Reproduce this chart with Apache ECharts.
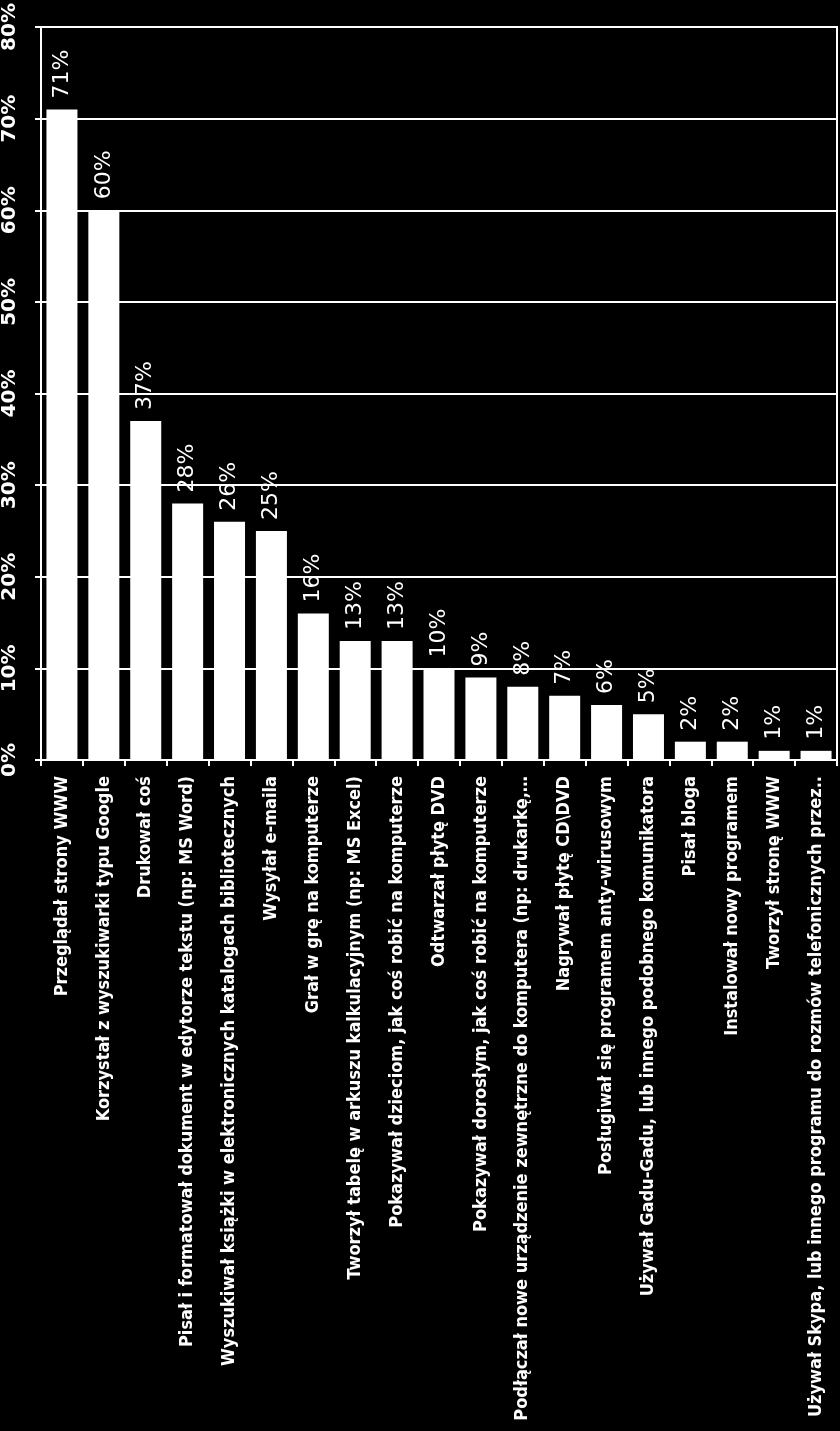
<!DOCTYPE html>
<html>
<head>
<meta charset="utf-8">
<script src="https://cdn.jsdelivr.net/npm/echarts@6/dist/echarts.min.js"></script>
<style>
html,body{margin:0;padding:0;background:#000;}
#chart{width:840px;height:1431px;}
</style>
</head>
<body>
<div id="chart"></div>
<script>
var categories = [
  "Przeglądał strony WWW",
  "Korzystał z wyszukiwarki typu Google",
  "Drukował coś",
  "Pisał i formatował dokument w edytorze tekstu (np: MS Word)",
  "Wyszukiwał książki w elektronicznych katalogach bibliotecznych",
  "Wysyłał e-maila",
  "Grał w grę na komputerze",
  "Tworzył tabelę w arkuszu kalkulacyjnym (np: MS Excel)",
  "Pokazywał dzieciom, jak coś robić na komputerze",
  "Odtwarzał płytę DVD",
  "Pokazywał dorosłym, jak coś robić na komputerze",
  "Podłączał nowe urządzenie zewnętrzne do komputera (np: drukarkę,…",
  "Nagrywał płytę CD\\DVD",
  "Posługiwał się programem anty-wirusowym",
  "Używał Gadu-Gadu, lub innego podobnego komunikatora",
  "Pisał bloga",
  "Instalował nowy programem",
  "Tworzył stronę WWW",
  "Używał Skypa, lub innego programu do rozmów telefonicznych przez.."
];
var values = [71, 60, 37, 28, 26, 25, 16, 13, 13, 10, 9, 8, 7, 6, 5, 2, 2, 1, 1];
var yTicks = {min: 0, max: 80, interval: 10};

var chart = echarts.init(document.getElementById('chart'), null, {renderer: 'canvas'});
chart.setOption({
  backgroundColor: '#000',
  animation: false,
  grid: {left: 41, right: 3, top: 27, bottom: 671, show: true, borderColor: '#fff', borderWidth: 2, containLabel: false},
  xAxis: {
    type: 'category',
    data: categories,
    axisLine: {lineStyle: {color: '#fff', width: 2}},
    axisTick: {show: true, length: 6, lineStyle: {color: '#fff', width: 2}},
    axisLabel: {
      interval: 0,
      rotate: 90,
      margin: 16,
      color: '#fff',
      fontFamily: '"Liberation Sans Narrow", "DejaVu Sans Condensed", sans-serif',
      fontWeight: 'bold',
      fontSize: 18
    }
  },
  yAxis: {
    type: 'value',
    min: yTicks.min, max: yTicks.max, interval: yTicks.interval,
    axisLine: {show: true, lineStyle: {color: '#fff', width: 2}},
    axisTick: {show: true, length: 6, lineStyle: {color: '#fff', width: 2}},
    splitLine: {show: true, lineStyle: {color: '#fff', width: 2}},
    axisLabel: {
      formatter: '{value}%',
      rotate: 90,
      margin: 31,
      align: 'center',
      verticalAlign: 'middle',
      color: '#fff',
      fontFamily: '"DejaVu Sans", sans-serif',
      fontWeight: 'bold',
      fontSize: 20
    }
  },
  series: [{
    type: 'bar',
    data: values,
    barWidth: 31,
    itemStyle: {color: '#fff'},
    label: {
      show: true,
      position: 'top',
      distance: 11,
      rotate: 90,
      align: 'left',
      verticalAlign: 'middle',
      formatter: '{c}%',
      color: '#fff',
      fontFamily: '"DejaVu Sans", sans-serif',
      fontSize: 22
    }
  }]
});
</script>
</body>
</html>
